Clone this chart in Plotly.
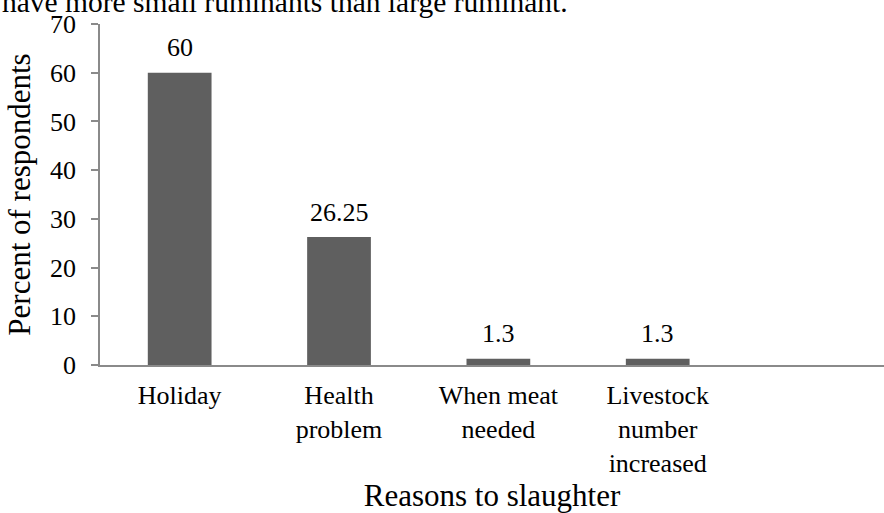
import plotly.graph_objects as go

# Reasons given for slaughtering livestock (% of respondents)
categories = ["Holiday", "Health problem", "When meat needed", "Livestock number increased"]
tick_labels = ["Holiday", "Health<br>problem", "When meat<br>needed", "Livestock<br>number<br>increased"]
percent = [60, 26.25, 1.3, 1.3]
value_labels = ["60", "26.25", "1.3", "1.3"]
y_ticks = [0, 10, 20, 30, 40, 50, 60, 70]

FONT = "Liberation Serif"
AXIS_GREY = "#8a8a8a"
BAR_GREY = "#5f5f5f"

x_pos = list(range(len(categories)))

fig = go.Figure(
    go.Bar(
        x=x_pos,
        y=percent,
        width=0.4,
        marker=dict(color=BAR_GREY, line=dict(width=0)),
        hovertext=categories,
    )
)

# value labels above each bar
for xi, v, lab in zip(x_pos, percent, value_labels):
    fig.add_annotation(
        x=xi, y=v, text=lab, showarrow=False, yanchor="middle", yshift=25,
        font=dict(family=FONT, size=26, color="black"),
    )

# sentence running over the top of the figure from the surrounding text
fig.add_annotation(
    xref="paper", yref="paper", x=-100 / 784, y=1, xanchor="left", yanchor="bottom",
    yshift=4, text="have more small ruminants than large ruminant.", showarrow=False,
    font=dict(family=FONT, size=29.5, color="black"),
)

fig.update_layout(
    width=884,
    height=513,
    margin=dict(l=100, r=0, t=24, b=148),
    paper_bgcolor="white",
    plot_bgcolor="white",
    showlegend=False,
    font=dict(family=FONT, color="black"),
    xaxis=dict(
        range=[-0.5, 4.42],
        tickmode="array",
        tickvals=x_pos,
        ticktext=tick_labels,
        showgrid=False,
        zeroline=False,
        showline=True,
        linecolor=AXIS_GREY,
        linewidth=1.5,
        ticks="",
        ticklabelstandoff=6,
        tickfont=dict(family=FONT, size=26, color="black"),
        title=dict(text="Reasons to slaughter", font=dict(family=FONT, size=31, color="black"), standoff=15),
        fixedrange=True,
    ),
    yaxis=dict(
        range=[0, 70],
        tickmode="array",
        tickvals=y_ticks,
        showgrid=False,
        zeroline=False,
        showline=True,
        linecolor=AXIS_GREY,
        linewidth=1.5,
        ticks="outside",
        ticklen=7,
        tickcolor=AXIS_GREY,
        tickwidth=1.5,
        ticklabelstandoff=10,
        tickfont=dict(family=FONT, size=26, color="black"),
        title=dict(text="Percent of respondents", font=dict(family=FONT, size=31, color="black"), standoff=10),
        fixedrange=True,
    ),
)

fig.write_html("out.html")
